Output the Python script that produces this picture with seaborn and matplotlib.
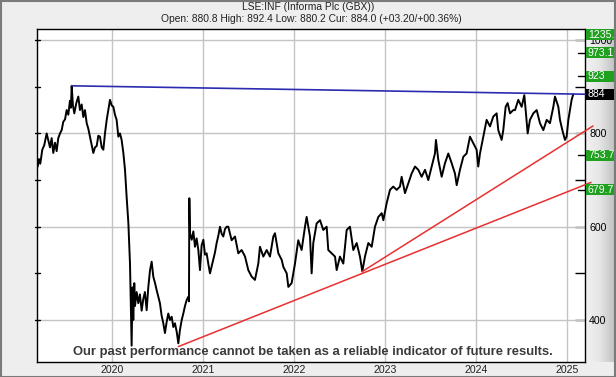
import matplotlib
matplotlib.use("Agg")
import matplotlib.pyplot as plt
import matplotlib.transforms as mtransforms
from matplotlib.patches import Rectangle
import numpy as np
import pandas as pd
import seaborn as sns

# ---------------- data (fractional years, price GBX) ----------------
dates = [
    2019.184, 2019.198, 2019.212, 2019.234, 2019.256, 2019.282, 2019.300, 2019.319, 2019.337, 2019.355,
    2019.374, 2019.392, 2019.410, 2019.429, 2019.447, 2019.465, 2019.484, 2019.502, 2019.520, 2019.538,
    2019.549, 2019.557, 2019.571, 2019.586, 2019.608, 2019.630, 2019.648, 2019.667, 2019.685, 2019.703,
    2019.722, 2019.740, 2019.758, 2019.777, 2019.795, 2019.813, 2019.832, 2019.850, 2019.868, 2019.887,
    2019.905, 2019.923, 2019.942, 2019.960, 2019.978, 2019.997, 2020.015, 2020.033, 2020.051, 2020.070,
    2020.088, 2020.106, 2020.125, 2020.143, 2020.161, 2020.180, 2020.190, 2020.198, 2020.207, 2020.216,
    2020.225, 2020.234, 2020.245, 2020.253, 2020.271, 2020.289, 2020.307, 2020.326, 2020.344, 2020.362,
    2020.381, 2020.399, 2020.418, 2020.436, 2020.454, 2020.472, 2020.491, 2020.509, 2020.527, 2020.545,
    2020.564, 2020.582, 2020.600, 2020.619, 2020.637, 2020.656, 2020.674, 2020.692, 2020.711, 2020.729,
    2020.747, 2020.766, 2020.784, 2020.802, 2020.821, 2020.839, 2020.846, 2020.850, 2020.857, 2020.876,
    2020.894, 2020.912, 2020.930, 2020.949, 2020.967, 2020.985, 2021.004, 2021.022, 2021.040, 2021.059,
    2021.077, 2021.095, 2021.113, 2021.132, 2021.150, 2021.168, 2021.187, 2021.205, 2021.223, 2021.242,
    2021.260, 2021.278, 2021.315, 2021.352, 2021.388, 2021.425, 2021.462, 2021.498, 2021.535, 2021.571,
    2021.608, 2021.626, 2021.663, 2021.700, 2021.736, 2021.773, 2021.791, 2021.828, 2021.865, 2021.883,
    2021.920, 2021.938, 2021.974, 2022.011, 2022.047, 2022.084, 2022.121, 2022.139, 2022.157, 2022.176,
    2022.194, 2022.212, 2022.249, 2022.286, 2022.322, 2022.359, 2022.377, 2022.414, 2022.451, 2022.469,
    2022.505, 2022.542, 2022.579, 2022.615, 2022.652, 2022.689, 2022.725, 2022.751, 2022.780, 2022.817,
    2022.854, 2022.890, 2022.927, 2022.964, 2022.982, 2023.018, 2023.055, 2023.091, 2023.128, 2023.165,
    2023.183, 2023.220, 2023.256, 2023.293, 2023.330, 2023.366, 2023.403, 2023.440, 2023.476, 2023.513,
    2023.549, 2023.560, 2023.586, 2023.623, 2023.659, 2023.696, 2023.733, 2023.769, 2023.788, 2023.824,
    2023.861, 2023.897, 2023.934, 2023.971, 2024.007, 2024.025, 2024.044, 2024.080, 2024.117, 2024.154,
    2024.190, 2024.227, 2024.245, 2024.282, 2024.300, 2024.326, 2024.348, 2024.374, 2024.410, 2024.429,
    2024.465, 2024.502, 2024.531, 2024.546, 2024.568, 2024.593, 2024.630, 2024.667, 2024.703, 2024.740,
    2024.777, 2024.813, 2024.850, 2024.868, 2024.905, 2024.923, 2024.949, 2024.978, 2024.996, 2025.015,
    2025.033, 2025.051, 2025.069,
]
prices = [
    729, 745, 735, 765, 775, 800, 785, 770, 790, 758,
    780, 762, 790, 800, 807, 825, 830, 850, 840, 870,
    855, 902, 860, 843, 865, 879, 850, 862, 835, 850,
    822, 810, 793, 775, 758, 770, 773, 795, 793, 770,
    765, 800, 829, 850, 872, 860, 857, 840, 829, 793,
    800, 786, 758, 722, 664, 608, 560, 520, 430, 345,
    470, 400, 479, 430, 460, 436, 455, 420, 445, 460,
    421, 470, 507, 525, 493, 480, 464, 450, 436, 410,
    393, 372, 395, 414, 400, 407, 385, 393, 375, 350,
    379, 400, 414, 430, 443, 450, 440, 661, 586, 572,
    590, 557, 575, 550, 507, 560, 572, 540, 543, 520,
    500, 515, 529, 545, 565, 580, 600, 585, 579, 595,
    600, 600, 571, 579, 543, 550, 536, 507, 493, 486,
    521, 557, 536, 550, 536, 579, 586, 543, 529, 514,
    500, 471, 479, 521, 571, 550, 600, 621, 600, 579,
    500, 565, 607, 614, 593, 600, 550, 543, 536, 507,
    536, 521, 593, 600, 550, 565, 536, 504, 536, 565,
    557, 600, 621, 629, 614, 650, 679, 686, 679, 686,
    707, 672, 693, 714, 729, 722, 707, 722, 700, 729,
    757, 786, 743, 707, 736, 757, 736, 714, 689, 722,
    750, 757, 793, 779, 765, 729, 757, 793, 829, 815,
    836, 843, 807, 786, 807, 857, 865, 843, 850, 850,
    872, 857, 882, 850, 800, 829, 843, 850, 822, 807,
    829, 822, 857, 879, 857, 829, 807, 786, 793, 829,
    850, 872, 884,
]

# trend lines: (start date, start price, end date, end price)
blue_line_x = [2019.557, 2025.198]
blue_line_y = [902, 884]
red_low_x = [2020.729, 2025.264]
red_low_y = [343, 695]
red_up_x = [2022.751, 2025.286]
red_up_y = [504, 816]

# right-hand price markers
marker_values = [1235.0, 973.1, 923.0, 753.7, 679.7]
marker_labels = ["1235.0", "973.1", "923", "753.7", "679.7"]
current_value = 884.0
current_label = "884"

year_ticks = [2020, 2021, 2022, 2023, 2024, 2025]
price_ticks = [400, 500, 600, 700, 800, 900, 1000]
price_labels = ["400", "", "600", "", "800", "", "1000"]

title1 = "LSE:INF (Informa Plc (GBX))"
title2 = "Open: 880.8 High: 892.4 Low: 880.2 Cur: 884.0 (+03.20/+00.36%)"
disclaimer = "Our past performance cannot be taken as a reliable indicator of future results."

# ---------------- figure ----------------
sns.set_style("white")
plt.rcParams["font.family"] = ["Liberation Sans", "DejaVu Sans"]

W, H = 616, 377
fig = plt.figure(figsize=(W / 100, H / 100), dpi=100, facecolor="#eeeeee")

L, R, T, B = 37, 585, 29, 362
ax_pos = [L / W, 1 - B / H, (R - L) / W, (B - T) / H]

# right price panel (gradient)
pax = fig.add_axes([R / W, 1 - B / H, 29 / W, (B - T) / H], zorder=0)
grad = np.linspace(0, 1, 50)[None, :]
pax.imshow(grad, aspect="auto", cmap=matplotlib.colors.LinearSegmentedColormap.from_list(
    "g", ["#f2f2f2", "#e6e6e6", "#c4c4c4"]), extent=[0, 1, 0, 1])
pax.set_axis_off()

ax = fig.add_axes(ax_pos, zorder=1)
df = pd.DataFrame({"date": dates, "price": prices})
sns.lineplot(data=df, x="date", y="price", ax=ax, color="black", lw=1.4, zorder=3)

ax.set_xlim(2019.176, 2025.198)
ax.set_ylim(310, 1023.8)

# grid
for yv in [400, 600, 800, 1000]:
    ax.axhline(yv, color="#c4c4c4", lw=1, zorder=1)
for xv in year_ticks:
    ax.axvline(xv, color="#c4c4c4", lw=1, zorder=1)

# trend lines
ax.plot(blue_line_x, blue_line_y, color="#2b2bb0", lw=1.2, zorder=4, clip_on=False)
ax.plot(red_low_x, red_low_y, color="#e83030", lw=1.1, zorder=4, clip_on=False)
ax.plot(red_up_x, red_up_y, color="#e83030", lw=1.1, zorder=4, clip_on=False)

# axes styling
for s in ax.spines.values():
    s.set_color("black")
    s.set_linewidth(1)
ax.set_xlabel("")
ax.set_ylabel("")
ax.set_xticks(year_ticks)
ax.set_xticklabels([str(y) for y in year_ticks])
ax.set_yticks(price_ticks)
ax.set_yticklabels(price_labels)
ax.tick_params(axis="x", length=0, labelsize=7.6, pad=2, colors="#222222")
ax.tick_params(axis="y", left=False, right=True, labelleft=False, labelright=True,
               direction="in", length=7, width=1, labelsize=7.6, pad=3, colors="black")

trans = mtransforms.blended_transform_factory(ax.transAxes, ax.transData)
# short left ticks
for v in price_ticks:
    ax.plot([-2.5 / (R - L), 2.5 / (R - L)], [v, v], transform=trans, color="black",
            lw=1, clip_on=False, zorder=5)

# marker boxes
ymax = ax.get_ylim()[1]
px_per_unit = (B - T) / (ax.get_ylim()[1] - ax.get_ylim()[0])
box_h = 11 / px_per_unit
box_x0 = (586 - L) / (R - L)
box_w = 30 / (R - L)
for v, lab in zip(marker_values, marker_labels):
    yc = min(v, ymax - 6 / px_per_unit)
    if v < ymax:
        ax.plot([1 - 7 / (R - L), 1], [v, v], transform=trans, color="black", lw=1, clip_on=False, zorder=5)
    ax.add_patch(Rectangle((box_x0, yc - box_h / 2), box_w, box_h, transform=trans,
                           facecolor="#1fa01f", edgecolor="none", clip_on=False, zorder=6))
    ax.text(box_x0 + 2 / (R - L), yc, lab, transform=trans, color="white", fontsize=7.6,
            va="center", ha="left", clip_on=False, zorder=7)
ax.add_patch(Rectangle((box_x0, current_value - box_h / 2), box_w, box_h, transform=trans,
                       facecolor="black", edgecolor="none", clip_on=False, zorder=6))
ax.text(box_x0 + 2 / (R - L), current_value, current_label, transform=trans, color="white",
        fontsize=7.6, va="center", ha="left", clip_on=False, zorder=7)

# titles
fig.text(308 / W, 1 - 7.5 / H, title1, ha="center", va="center", fontsize=7.4, color="#222222")
fig.text(311 / W, 1 - 19.5 / H, title2, ha="center", va="center", fontsize=7.4, color="#222222")

# disclaimer
ax.text(0.5 * (72 + 554) / W, 1 - 352 / H, disclaimer, transform=fig.transFigure,
        ha="center", va="center", fontsize=9.4, fontweight="bold", color="#3a3a3a", zorder=8)

# frame border
fig.patches.append(Rectangle((0.001, 0.001), 0.998, 0.997, transform=fig.transFigure,
                             facecolor="none", edgecolor="#7a7a7a", lw=1.5))

fig.savefig("out.png", dpi=100, facecolor=fig.get_facecolor())
